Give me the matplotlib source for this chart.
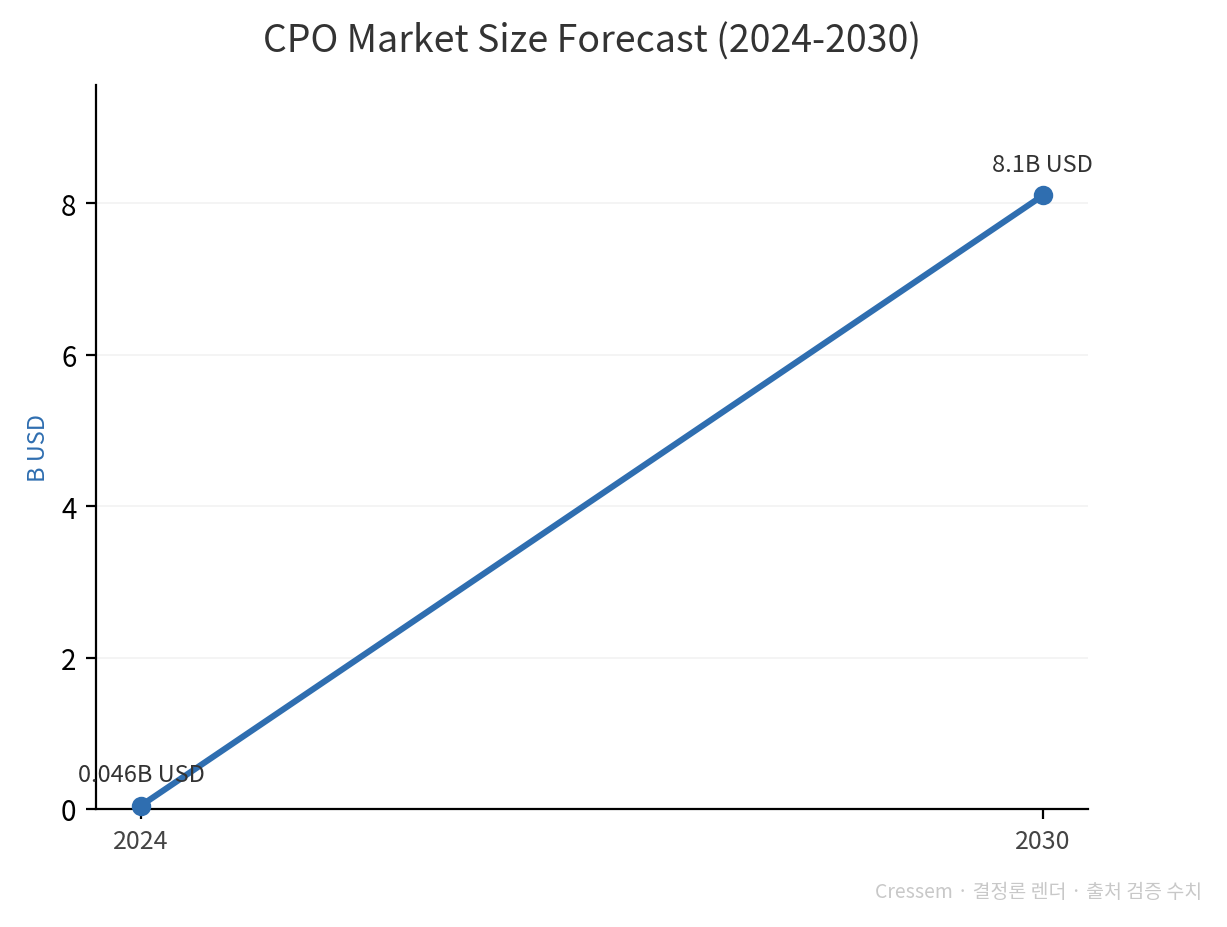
import matplotlib
matplotlib.use('Agg')
import matplotlib.pyplot as plt

plt.rcParams['font.family'] = ['Noto Sans CJK KR', 'DejaVu Sans']

years = [2024, 2030]
values = [0.046, 8.1]
labels = ['0.046B USD', '8.1B USD']
yticks = [0, 2, 4, 6, 8]

mainColor = '#2f6eb0'

fig = plt.figure(figsize=(6.135, 4.64), dpi=200)
ax = fig.add_axes([96 / 1227, 1 - 810 / 928, (1088 - 96) / 1227, (810 - 86) / 928])

ax.plot(years, values, color=mainColor, linewidth=2.2, marker='o',
        markersize=6, zorder=3, clip_on=False)

for x, y, t in zip(years, values, labels):
    ax.annotate(t, (x, y), xytext=(0, 7), textcoords='offset points',
                ha='center', va='bottom', fontsize=8.5, color='#333333')

ax.set_xticks(years)
ax.set_xticklabels([str(y) for y in years], color='#444444', fontsize=9)
ax.set_yticks(yticks)
ax.set_yticklabels([str(v) for v in yticks], fontsize=10, color='black')
ax.set_ylim(0, max(values) * 1.18)
ax.set_xlim(2023.7, 2030.3)

ax.grid(axis='y', color='#f2f2f2', linewidth=0.6)
ax.set_axisbelow(True)
for s in ['top', 'right']:
    ax.spines[s].set_visible(False)
ax.spines['left'].set_linewidth(0.8)
ax.spines['bottom'].set_linewidth(0.8)

ax.set_ylabel('B USD', color=mainColor, fontsize=8.5)

# title centred over the axes, not the figure
fig.text(592 / 1227, 0.955, 'CPO Market Size Forecast (2024-2030)',
         ha='center', va='center', fontsize=13.5, color='#333333')
fig.text(0.98, 0.038, 'Cressem · 결정론 렌더 · 출처 검증 수치', ha='right',
         va='center', fontsize=7, color='#c8c8c8')

fig.savefig('out.png', dpi=200)
